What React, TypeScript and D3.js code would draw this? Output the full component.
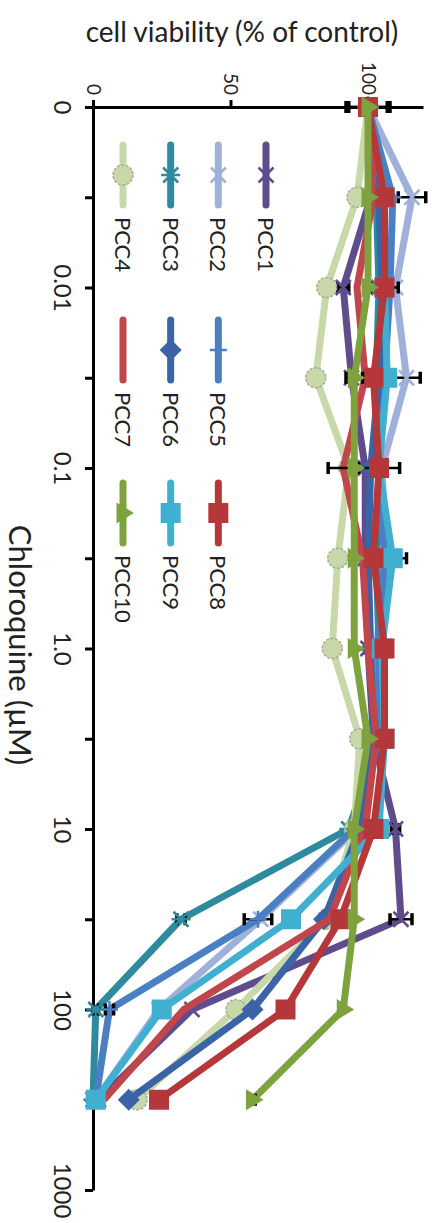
import React, { useEffect, useRef } from "react";
import * as d3 from "d3";

// chloroquine concentrations (uM), evenly spaced categories like the excel sheet
const concentrations = ["0", "0.003", "0.01", "0.03", "0.1", "0.3", "1.0", "3", "10", "30", "100", "300", "1000"];
const concLabels = ["0", "", "0.01", "", "0.1", "", "1.0", "", "10", "", "100", "", "1000"];
const viabilityTicks = [0, 50, 100];

const seriesNames = ["PCC1", "PCC2", "PCC3", "PCC4", "PCC5", "PCC6", "PCC7", "PCC8", "PCC9", "PCC10"];

// cell viability, % of control
const pcc1 = [100, 101, 91, 94, 99, 99, 100, 102, 110, 112, 36, 2];
const pcc2 = [100, 116, 110, 114, 105, 107, 103, 103, 96, 61, 24, 1];
const pcc3 = [100, 103, 104, 103, 104, 103, 104, 104, 93, 32, 1, 0];
const pcc4 = [100, 96, 85, 81, 93, 89, 87, 97, 95, 85, 52, 16];
const pcc5 = [100, 109, 108, 106, 104, 106, 104, 104, 95, 60, 6, 1];
const pcc6 = [100, 104, 105, 104, 101, 100, 101, 102, 97, 84, 58, 13];
const pcc7 = [100, 102, 96, 99, 91, 98, 100, 103, 99, 86, 33, 4];
const pcc8 = [100, 106, 106, 102, 104, 102, 106, 106, 102, 90, 70, 24];
const pcc9 = [100, 106, 106, 107, 104, 109, 105, 106, 104, 72, 25, 1];
const pcc10 = [100, 100, 100, 95, 95, 95, 95, 100, 95, 95, 91, 58];

// standard deviations (0 where no bar shows)
const pcc1Err = [7, 0, 2, 0, 0, 0, 1, 0, 1.5, 4, 0, 0];
const pcc2Err = [8, 5, 0, 5, 0, 0, 0, 0, 0, 0, 0, 0];
const pcc3Err = [0, 0, 0, 0, 0, 0, 0, 0, 0, 1.5, 1, 0];
const pcc4Err = [0, 0, 0, 0, 0, 0, 0, 0, 0, 0, 0, 0];
const pcc5Err = [0, 0, 0, 0, 0, 0, 0, 0, 0, 5, 1.5, 0];
const pcc6Err = [0, 0, 0, 0, 0, 0, 0, 0, 0, 0, 0, 0];
const pcc7Err = [0, 0, 0, 0, 5.5, 0, 0, 0, 0, 0, 0, 0];
const pcc8Err = [0, 0, 5, 0, 7.5, 0, 0, 0, 0, 0, 0, 0];
const pcc9Err = [0, 0, 0, 0, 0, 5, 0, 0, 0, 0, 0, 0];
const pcc10Err = [0, 0, 0, 3, 0, 0, 0, 0, 0, 0, 0, 1];

const seriesValues = [pcc1, pcc2, pcc3, pcc4, pcc5, pcc6, pcc7, pcc8, pcc9, pcc10];
const seriesErrors = [pcc1Err, pcc2Err, pcc3Err, pcc4Err, pcc5Err, pcc6Err, pcc7Err, pcc8Err, pcc9Err, pcc10Err];

const colors = ["#5E4C8C", "#9FB1DB", "#2E8A9E", "#C8D8A8", "#4A7FC1", "#3A64A6", "#C0464B", "#B5373A", "#41B0D0", "#7EA33E"];
const markers = ["x", "x", "star", "circle", "plus", "diamond", "none", "square", "square", "triangle"];
// PCC8's squares sit over PCC9's in the picture
const drawOrder = [0, 1, 2, 3, 4, 5, 6, 8, 7, 9];

// legend slots (row, column) in excel's legend grid
const legendRow = [0, 1, 2, 3, 1, 2, 3, 1, 2, 3];
const legendCol = [0, 0, 0, 0, 1, 1, 1, 2, 2, 2];

const FONT = "Lato, 'Open Sans', sans-serif";

function drawMarker(g: any, type: string, color: string, cx: number, cy: number) {
  const s = 7.5;
  if (type === "none") return;
  if (type === "x" || type === "star" || type === "plus") {
    let d = "";
    if (type === "x" || type === "star") d += `M${-s},${-s}L${s},${s}M${-s},${s}L${s},${-s}`;
    if (type === "star") d += `M${-s - 2},0L${s + 2},0`;
    if (type === "plus") d += `M${-s - 1},0L${s + 1},0M0,${-s - 1}L0,${s + 1}`;
    g.append("path").attr("d", d).attr("transform", `translate(${cx},${cy})`)
      .attr("stroke", color).attr("stroke-width", 2.5).attr("fill", "none");
    return;
  }
  if (type === "circle") {
    g.append("circle").attr("cx", cx).attr("cy", cy).attr("r", 10)
      .attr("fill", color).attr("stroke", "#A4AE8E").attr("stroke-width", 1.5).attr("stroke-dasharray", "3,1.5");
    return;
  }
  let d = "";
  if (type === "square") d = "M-10,-10H10V10H-10Z";
  if (type === "diamond") d = "M0,-11L11,0L0,11L-11,0Z";
  if (type === "triangle") d = "M11,0L-6.5,10.5L-6.5,-10.5Z";
  g.append("path").attr("d", d).attr("transform", `translate(${cx},${cy})`).attr("fill", color);
}

export default function App() {
  const ref = useRef<SVGSVGElement>(null);

  useEffect(() => {
    const svg = d3.select(ref.current);
    svg.selectAll("*").remove();

    // chart is drawn turned a quarter clockwise: concentration runs down, viability runs right
    const x = d3.scaleLinear().domain([0, 120]).range([93, 423]);
    const y = d3.scalePoint<string>().domain(concentrations).range([107, 1190]);

    // viability axis along the top
    const top = svg.append("g").attr("transform", "translate(0,107)")
      .call(d3.axisTop(x).tickValues(viabilityTicks).tickSize(7).tickSizeOuter(0).tickFormat(d3.format("d")));
    top.select(".domain").attr("stroke-width", 3);
    top.selectAll(".tick line").attr("stroke-width", 3);
    top.selectAll(".tick text")
      .attr("x", null).attr("y", null).attr("dy", "0.36em")
      .attr("transform", "translate(0,-12) rotate(90)")
      .attr("text-anchor", "end")
      .style("font-family", FONT).style("font-size", "19px").attr("fill", "#222");

    // concentration axis on the left
    const left = svg.append("g").attr("transform", "translate(93,0)")
      .call(d3.axisLeft(y).tickSize(8).tickSizeOuter(0).tickFormat((d, i) => concLabels[i]));
    left.select(".domain").attr("stroke-width", 3);
    left.selectAll(".tick line").attr("stroke-width", 3);
    left.selectAll(".tick text")
      .attr("x", null).attr("y", null).attr("dy", "0.36em")
      .attr("transform", "translate(-30,0) rotate(90)")
      .attr("text-anchor", "middle")
      .style("font-family", FONT).style("font-size", "24px").attr("fill", "#222");

    svg.append("text").attr("x", 242).attr("y", 42).attr("text-anchor", "middle")
      .style("font-family", FONT).style("font-size", "28px").attr("fill", "#222")
      .text("cell viability (% of control)");

    svg.append("text").attr("transform", "translate(20,645) rotate(90)")
      .attr("text-anchor", "middle").attr("dy", "0.36em")
      .style("font-family", FONT).style("font-size", "31px").attr("fill", "#222")
      .text("Chloroquine (\u00b5M)");

    const line = d3.line<number>()
      .x((d) => x(d))
      .y((d, i) => y(concentrations[i]) as number);

    drawOrder.forEach((si) => {
      const vals = seriesValues[si];
      const g = svg.append("g");
      g.append("path").datum(vals).attr("d", line).attr("fill", "none")
        .attr("stroke", colors[si]).attr("stroke-width", 7).attr("stroke-linejoin", "round");
      seriesErrors[si].forEach((e, i) => {
        if (!e) return;
        const cy = y(concentrations[i]) as number;
        const x0 = x(vals[i] - e), x1 = x(vals[i] + e);
        g.append("line").attr("x1", x0).attr("x2", x1).attr("y1", cy).attr("y2", cy)
          .attr("stroke", "#000").attr("stroke-width", 2.5);
        [x0, x1].forEach((cx) => g.append("line").attr("x1", cx).attr("x2", cx)
          .attr("y1", cy - 6).attr("y2", cy + 6).attr("stroke", "#000").attr("stroke-width", 3.5));
      });
      vals.forEach((v, i) => drawMarker(g, markers[si], colors[si], x(v), y(concentrations[i]) as number));
    });

    // legend
    const rowX = d3.scaleLinear().domain([0, 3]).range([266, 123]);
    const colY = [145, 320, 483];
    seriesNames.forEach((name, si) => {
      const lx = rowX(legendRow[si]);
      const ly = colY[legendCol[si]];
      const g = svg.append("g");
      g.append("line").attr("x1", lx).attr("x2", lx).attr("y1", ly).attr("y2", ly + 60)
        .attr("stroke", colors[si]).attr("stroke-width", 7).attr("stroke-linecap", "round");
      drawMarker(g, markers[si], colors[si], lx, ly + 30);
      g.append("text").attr("transform", `translate(${lx},${ly + 72}) rotate(90)`)
        .attr("dy", "0.36em").attr("text-anchor", "start")
        .style("font-family", FONT).style("font-size", "22px").attr("fill", "#222")
        .text(name);
    });
  }, []);

  return (
    <svg ref={ref} width={434} height={1223}
      style={{ position: "absolute", left: 0, top: 0, background: "#fff" }} />
  );
}
